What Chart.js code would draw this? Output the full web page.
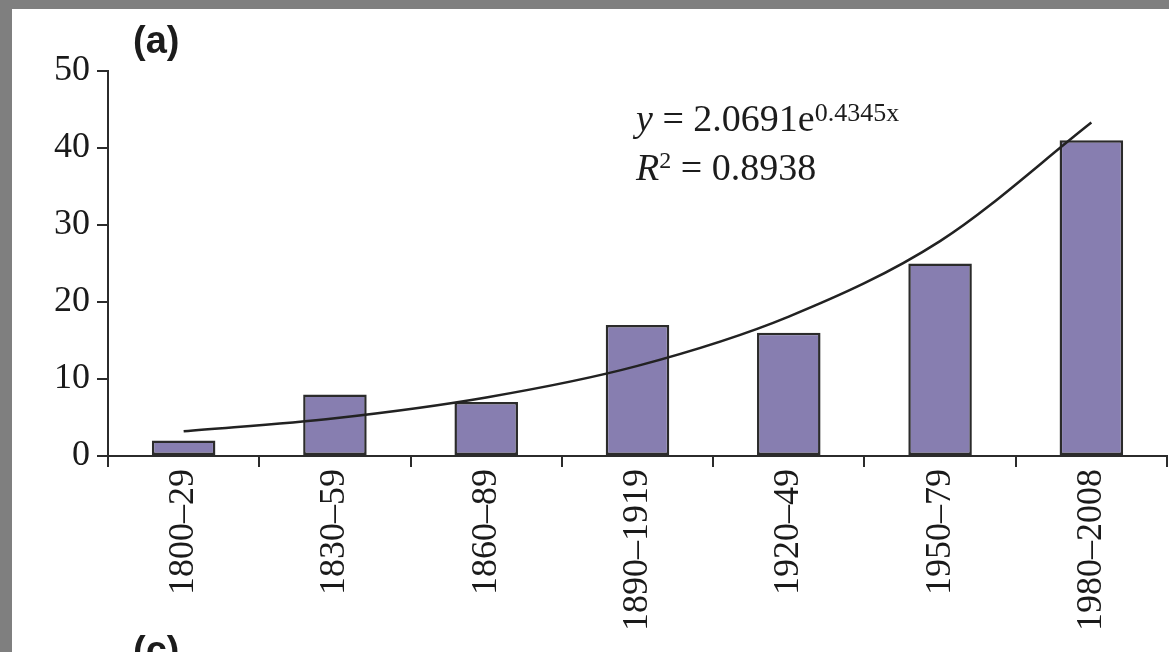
<!DOCTYPE html>
<html>
<head>
<meta charset="utf-8">
<script src="https://cdn.jsdelivr.net/npm/chart.js@4.4.1/dist/chart.umd.min.js"></script>
<style>
    html, body { margin: 0; padding: 0; overflow: hidden; }
    body { width: 1169px; height: 652px; background: #7f7f7f; position: relative; }
    .panel { position: absolute; left: 12px; top: 9px; width: 1157px; height: 643px; background: #fff; }
    .tag  { position: absolute; font: bold 38px "Liberation Sans", Arial, sans-serif; line-height: 38px; color: #1c1c1c; }
    .eqn  { position: absolute; left: 636px; top: 96px; font: 38px "Liberation Serif", "Times New Roman", serif;
            line-height: 45px; color: #1c1c1c; white-space: nowrap; }
    .eqn i { font-style: italic; }
    .eqn .sup { font-size: 26px; position: relative; top: -10px; }
    .eqn .sup2 { font-size: 24px; position: relative; top: -12px; }
</style>
</head>
<body>
<div class="panel"><canvas id="chart"></canvas></div>
<div class="tag" style="left:133px; top:21px;">(a)</div>
<div class="tag" style="left:133px; top:631px;">(c)</div>
<div class="eqn">
    <div><i>y</i> = 2.0691e<span class="sup">0.4345x</span></div>
    <div><i>R</i><span class="sup2">2</span> = 0.8938</div>
</div>

<script>
const periods   = ["1800–29", "1830–59", "1860–89", "1890–1919", "1920–49", "1950–79", "1980–2008"];
const counts    = [2, 8, 7, 17, 16, 25, 41];
// exponential trend y = 2.0691e^(0.4345x), x = 1..7
const trend     = [3.2, 4.9, 7.6, 11.7, 18.1, 27.9, 43.3];
const yTicks    = [0, 10, 20, 30, 40, 50];

const INK = "#2b2b2b";
const serif = "'Liberation Serif', 'Times New Roman', serif";

new Chart(document.getElementById("chart"), {
    data: {
        labels: periods,
        datasets: [
            {
                type: "line",
                data: trend,
                borderColor: "#222",
                borderWidth: 2.5,
                pointRadius: 0,
                cubicInterpolationMode: "monotone",
                order: 0,
            },
            {
                type: "bar",
                data: counts,
                backgroundColor: "#877eb0",
                borderColor: INK,
                borderWidth: 2.5,
                borderSkipped: false,
                categoryPercentage: 1,
                barPercentage: 0.42,
                order: 1,
            },
        ]
    },
    options: {
        responsive: true,
        maintainAspectRatio: false,
        animation: false,
        layout: { padding: { top: 62, right: 2, left: 0, bottom: 0 } },
        plugins: { legend: { display: false }, tooltip: { enabled: false } },
        scales: {
            x: {
                offset: true,
                grid: { offset: true, drawOnChartArea: false, drawTicks: true, tickLength: 11, tickColor: INK, lineWidth: 2 },
                border: { display: true, color: INK, width: 2 },
                ticks: {
                    autoSkip: false, minRotation: 90, maxRotation: 90, padding: 2,
                    color: "#1a1a1a", font: { family: serif, size: 36 },
                },
                afterFit: s => { s.height = 196; },
            },
            y: {
                min: 0, max: 50,
                afterBuildTicks: s => { s.ticks = yTicks.map(v => ({ value: v })); },
                grid: { drawOnChartArea: false, drawTicks: true, tickLength: 11, tickColor: INK, lineWidth: 2 },
                border: { display: true, color: INK, width: 2 },
                ticks: { padding: 7, color: "#1a1a1a", font: { family: serif, size: 36 } },
                afterFit: s => { s.width = 96; },
            }
        }
    }
});
</script>
</body>
</html>
